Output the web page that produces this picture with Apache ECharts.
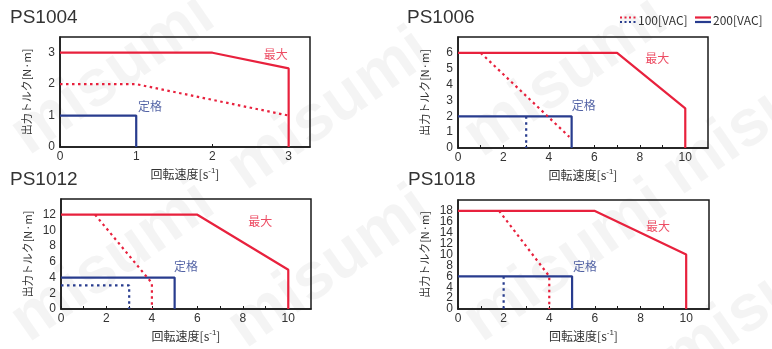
<!DOCTYPE html>
<html><head><meta charset="utf-8">
<script src="https://cdn.jsdelivr.net/npm/echarts@6/dist/echarts.min.js"></script>
<style>html,body{margin:0;padding:0;background:#fff}#c{width:772px;height:349px}</style>
</head><body><div id="c"></div>
<script>
// Speed–torque curves for four servo models. Points are [speed s^-1, torque N·m].
const models = ['PS1004', 'PS1006', 'PS1012', 'PS1018'];

const max200 = [
  [[0, 3], [2, 3], [3, 2.5], [3, 0]],
  [[0, 6], [7, 6], [10, 2.5], [10, 0]],
  [[0, 12], [6, 12], [10, 5], [10, 0]],
  [[0, 18], [6, 18], [10, 10], [10, 0]]
];
const max100 = [
  [[0, 2], [1, 2], [3, 1]],
  [[1, 6], [4.9, 0.7]],
  [[1.5, 12], [4, 3.3], [4, 0]],
  [[1.8, 18], [4, 6], [4, 0]]
];
const rated200 = [
  [[0, 1], [1, 1], [1, 0]],
  [[0, 2], [5, 2], [5, 0]],
  [[0, 4], [5, 4], [5, 0]],
  [[0, 6], [5, 6], [5, 0]]
];
const rated100 = [
  [],
  [[3, 2], [3, 0]],
  [[0, 3], [3, 3], [3, 0]],
  [[2, 6], [2, 0]]
];
// where the 最大 / 定格 captions sit, in data units
const maxLabelAt = [[2.83, 2.94], [8.77, 5.63], [8.77, 11.2], [8.77, 15.1]];
const ratedLabelAt = [[1.18, 1.28], [5.53, 2.66], [5.5, 5.36], [5.57, 7.8]];

const xMax = [3.28, 11, 11, 11];
const yMax = [3.5, 7, 14, 20];
const yStep = [1, 1, 2, 2];
const xLabelStep = [1, 2, 2, 2];

const RED = '#e8213d';
const BLUE = '#283c8e';
const INK = '#333';
const JP = '"Noto Sans CJK JP", "Liberation Sans", sans-serif';
const LAT = '"Liberation Sans", Arial, sans-serif';

const grids = [
  { left: 60, top: 37, width: 250, height: 110 },
  { left: 458, top: 37, width: 250, height: 111 },
  { left: 61, top: 199, width: 250, height: 110 },
  { left: 458, top: 200, width: 251, height: 109 }
];
const titlePos = [[10, 8], [407, 8], [10, 170], [408, 170]];

const xAxes = [], yAxes = [], series = [], graphics = [];

// faint site watermark behind the plots
const watermarkAt = [[113, 75], [330, 110], [566, 77], [765, 115], [113, 262], [330, 268], [566, 262], [765, 300]];
watermarkAt.forEach(p => graphics.push({
  type: 'text', x: p[0], y: p[1], rotation: 35 * Math.PI / 180, z: -10, silent: true,
  style: { text: 'misumi', font: 'bold 66px "Liberation Sans", Arial, sans-serif', fill: 'rgba(0,0,0,0.045)',
    textAlign: 'center', textVerticalAlign: 'middle' }
}));

const yLabelStyle = { fontFamily: LAT, fontSize: 12, color: INK, margin: 5, showMaxLabel: false };

grids.forEach((g, i) => {
  g.show = true; g.borderColor = '#1a1a1a'; g.borderWidth = 1.5; g.backgroundColor = 'transparent';
  xAxes.push({
    gridIndex: i, type: 'value', min: 0, max: xMax[i], interval: 1,
    name: '回転速度[s{sup|-1}]', nameLocation: 'middle', nameGap: 20,
    nameTextStyle: { fontFamily: JP, fontSize: 12, color: INK,
      rich: { sup: { fontSize: 8, verticalAlign: 'top', padding: [0, 0, 6, 0], fontFamily: LAT, color: INK } } },
    axisLine: { show: true, lineStyle: { color: '#1a1a1a', width: 1.5 } },
    axisTick: { show: true, inside: true, length: 3, lineStyle: { color: '#1a1a1a' } },
    axisLabel: { fontFamily: LAT, fontSize: 12, color: INK, margin: 4, showMaxLabel: false, showMinLabel: true,
      formatter: v => (Math.abs(v - Math.round(v)) < 1e-6 && Math.round(v) % xLabelStep[i] === 0) ? String(Math.round(v)) : '' },
    splitLine: { show: false }
  });
  // main torque axis: labels above zero, plus the axis title
  yAxes.push({
    gridIndex: i, type: 'value', min: 0, max: yMax[i], interval: yStep[i],
    name: '出力トルク[N·m]', nameLocation: 'middle', nameGap: 28, nameRotate: 90,
    nameTextStyle: { fontFamily: JP, fontSize: 11, color: INK },
    axisLine: { show: true, lineStyle: { color: '#1a1a1a', width: 1.5 } },
    axisTick: { show: false },
    axisLabel: Object.assign({}, yLabelStyle, { showMinLabel: false }),
    splitLine: { show: false }
  });
  // companion axis on the same scale that only prints the zero label,
  // so tightly packed labels never knock each other out
  yAxes.push({
    gridIndex: i, type: 'value', min: 0, max: yMax[i], interval: yStep[i], position: 'left',
    axisLine: { show: false }, axisTick: { show: false }, splitLine: { show: false },
    axisLabel: Object.assign({}, yLabelStyle, { showMinLabel: true, formatter: v => (v === 0 ? '0' : '') })
  });
  const yi = i * 2;
  const base = { type: 'line', xAxisIndex: i, yAxisIndex: yi, symbol: 'none', silent: true, animation: false };
  series.push(Object.assign({}, base, { data: rated200[i], z: 3, lineStyle: { color: BLUE, width: 2.2 } }));
  series.push(Object.assign({}, base, { data: rated100[i], z: 4, lineStyle: { color: BLUE, width: 2.2, type: [2.5, 3.5] } }));
  series.push(Object.assign({}, base, { data: max100[i], z: 4, lineStyle: { color: RED, width: 2.2, type: [2.5, 3.5] } }));
  series.push(Object.assign({}, base, { data: max200[i], z: 5, lineStyle: { color: RED, width: 2.2 } }));
  series.push({ type: 'scatter', xAxisIndex: i, yAxisIndex: yi, symbolSize: 0, silent: true, animation: false,
    data: [
      { value: maxLabelAt[i], label: { formatter: '最大', color: RED } },
      { value: ratedLabelAt[i], label: { formatter: '定格', color: BLUE } }
    ],
    label: { show: true, position: 'inside', fontFamily: JP, fontSize: 12 } });
  graphics.push({ type: 'text', left: titlePos[i][0], top: titlePos[i][1],
    style: { text: models[i], font: '19px "Liberation Sans", Arial, sans-serif', fill: INK } });
});

// legend: dotted = 100 VAC, solid = 200 VAC (red = max, blue = rated)
const legendY = 20;
graphics.push(
  { type: 'line', shape: { x1: 620, y1: legendY - 2.5, x2: 636, y2: legendY - 2.5 }, style: { stroke: RED, lineWidth: 2, lineDash: [2, 2.5] } },
  { type: 'line', shape: { x1: 620, y1: legendY + 2, x2: 636, y2: legendY + 2 }, style: { stroke: BLUE, lineWidth: 2, lineDash: [2, 2.5] } },
  { type: 'text', x: 638, y: legendY, style: { text: '100[VAC]', font: '12px "Noto Sans CJK JP", sans-serif', fill: INK, textVerticalAlign: 'middle' } },
  { type: 'line', shape: { x1: 695, y1: legendY - 2.5, x2: 711, y2: legendY - 2.5 }, style: { stroke: RED, lineWidth: 2.2 } },
  { type: 'line', shape: { x1: 695, y1: legendY + 2, x2: 711, y2: legendY + 2 }, style: { stroke: BLUE, lineWidth: 2.2 } },
  { type: 'text', x: 713, y: legendY, style: { text: '200[VAC]', font: '12px "Noto Sans CJK JP", sans-serif', fill: INK, textVerticalAlign: 'middle' } }
);

const chart = echarts.init(document.getElementById('c'), null, { renderer: 'canvas' });
chart.setOption({
  backgroundColor: '#fff',
  animation: false,
  grid: grids, xAxis: xAxes, yAxis: yAxes, series: series, graphic: graphics
});
</script></body></html>
